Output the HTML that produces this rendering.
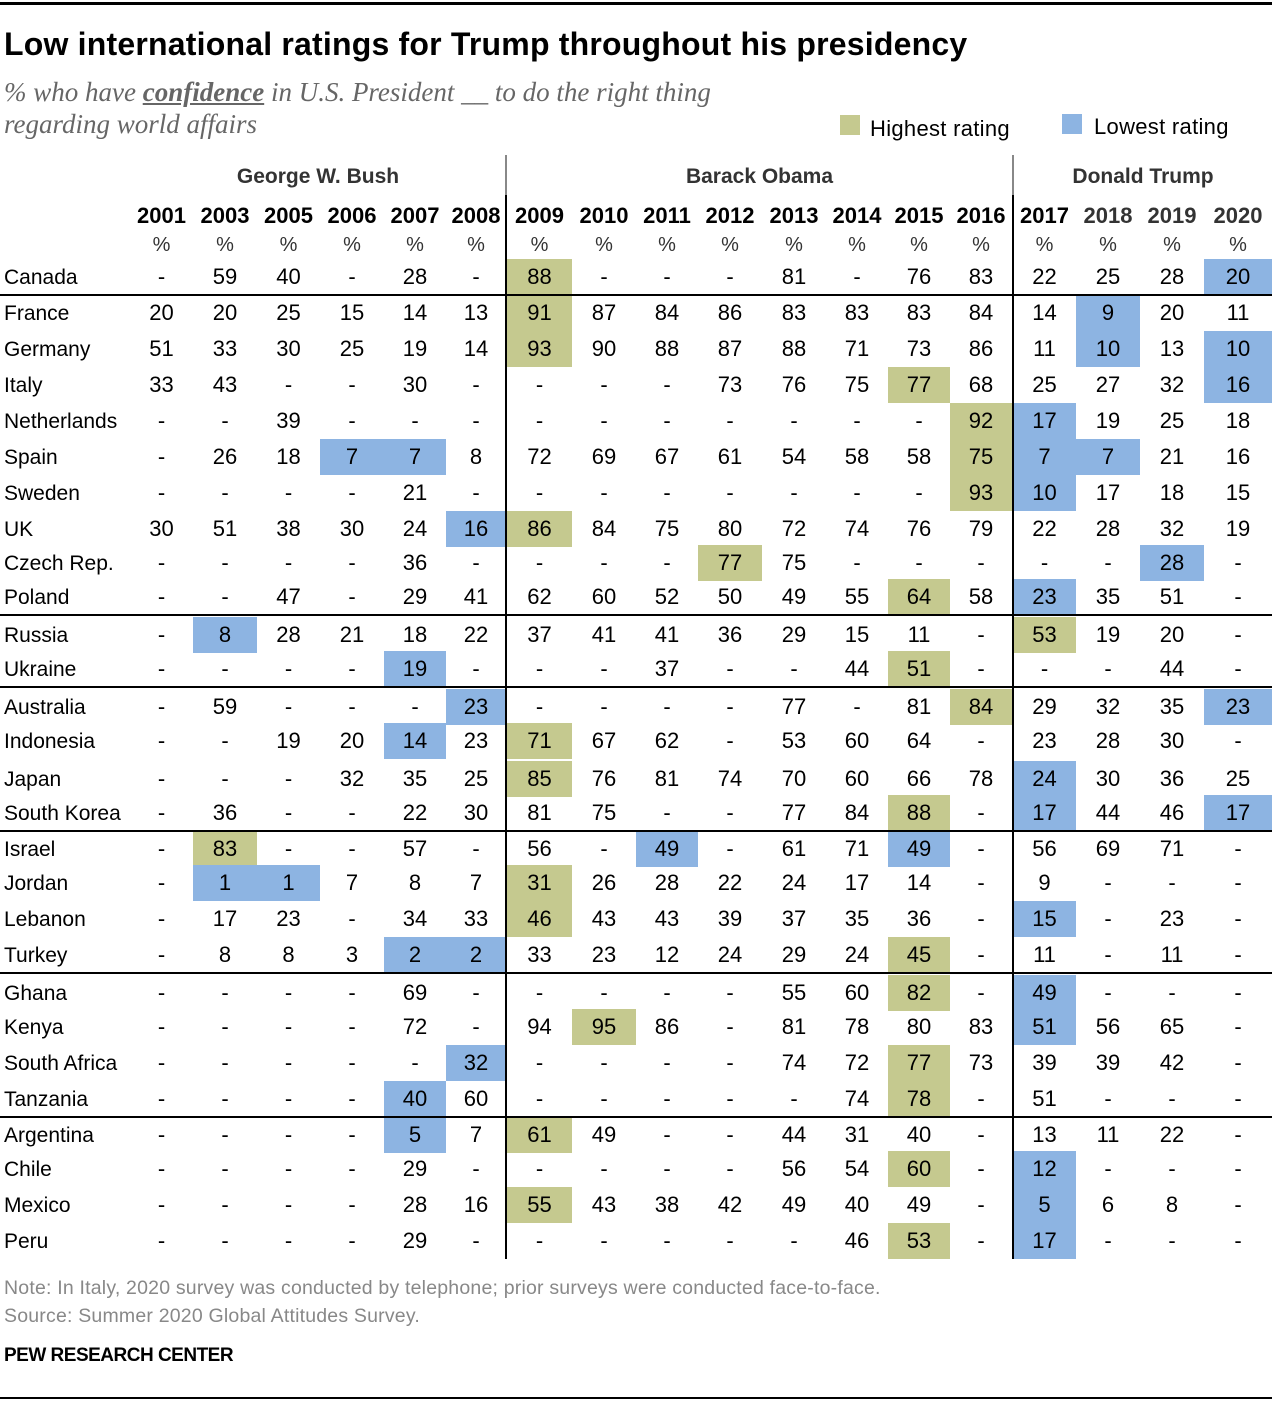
<!DOCTYPE html>
<html><head><meta charset="utf-8">
<style>
body{margin:0;background:#fff;font-family:"Liberation Sans",sans-serif;color:#000}
#root{position:relative;width:1280px;height:1402px;overflow:hidden}
.abs{position:absolute;white-space:nowrap}
</style></head><body>
<div id="root">
<div class="abs" style="left:0;top:2px;width:1272px;height:3px;background:#000"></div>
<div class="abs" style="left:4px;top:26px;font-size:32px;font-weight:bold;letter-spacing:0.2px">Low international ratings for Trump throughout his presidency</div>
<div class="abs" style="left:4px;top:76px;font-family:'Liberation Serif',serif;font-style:italic;font-size:27px;color:#666;line-height:32px">% who have <b style="text-decoration:underline">confidence</b> in U.S. President __ to do the right thing<br>regarding world affairs</div>
<div class="abs" style="left:840px;top:115px;width:20px;height:20px;background:#c5c98f"></div>
<div class="abs" style="left:870px;top:116px;font-size:22px;letter-spacing:0.3px">Highest rating</div>
<div class="abs" style="left:1062px;top:114px;width:20px;height:20px;background:#8db4e2"></div>
<div class="abs" style="left:1094px;top:114px;font-size:22px;letter-spacing:0.3px">Lowest rating</div>
<div class="abs" style="left:130px;width:376px;text-align:center;top:165px;font-size:21px;font-weight:bold;color:#333">George W. Bush</div>
<div class="abs" style="left:507px;width:505px;text-align:center;top:165px;font-size:21px;font-weight:bold;color:#333">Barack Obama</div>
<div class="abs" style="left:1014px;width:258px;text-align:center;top:165px;font-size:21px;font-weight:bold;color:#333">Donald Trump</div>
<div id="grid"></div>
<div class="abs" style="left:4px;top:1277px;font-size:19.5px;color:#888;letter-spacing:0.2px">Note: In Italy, 2020 survey was conducted by telephone; prior surveys were conducted face-to-face.</div>
<div class="abs" style="left:4px;top:1305px;font-size:19.5px;color:#888;letter-spacing:0.2px">Source: Summer 2020 Global Attitudes Survey.</div>
<div class="abs" style="left:4px;top:1345px;font-size:19px;font-weight:bold;letter-spacing:-0.5px">PEW RESEARCH CENTER</div>
<div class="abs" style="left:0;top:1397px;width:1272px;height:2px;background:#000"></div>
</div>
<script>
const years=["2001","2003","2005","2006","2007","2008","2009","2010","2011","2012","2013","2014","2015","2016","2017","2018","2019","2020"];
const countries=["Canada","France","Germany","Italy","Netherlands","Spain","Sweden","UK","Czech Rep.","Poland","Russia","Ukraine","Australia","Indonesia","Japan","South Korea","Israel","Jordan","Lebanon","Turkey","Ghana","Kenya","South Africa","Tanzania","Argentina","Chile","Mexico","Peru"];
// H = highest, L = lowest suffix
const values=[
"- 59 40 - 28 - 88H - - - 81 - 76 83 22 25 28 20L",
"20 20 25 15 14 13 91H 87 84 86 83 83 83 84 14 9L 20 11",
"51 33 30 25 19 14 93H 90 88 87 88 71 73 86 11 10L 13 10L",
"33 43 - - 30 - - - - 73 76 75 77H 68 25 27 32 16L",
"- - 39 - - - - - - - - - - 92H 17L 19 25 18",
"- 26 18 7L 7L 8 72 69 67 61 54 58 58 75H 7L 7L 21 16",
"- - - - 21 - - - - - - - - 93H 10L 17 18 15",
"30 51 38 30 24 16L 86H 84 75 80 72 74 76 79 22 28 32 19",
"- - - - 36 - - - - 77H 75 - - - - - 28L -",
"- - 47 - 29 41 62 60 52 50 49 55 64H 58 23L 35 51 -",
"- 8L 28 21 18 22 37 41 41 36 29 15 11 - 53H 19 20 -",
"- - - - 19L - - - 37 - - 44 51H - - - 44 -",
"- 59 - - - 23L - - - - 77 - 81 84H 29 32 35 23L",
"- - 19 20 14L 23 71H 67 62 - 53 60 64 - 23 28 30 -",
"- - - 32 35 25 85H 76 81 74 70 60 66 78 24L 30 36 25",
"- 36 - - 22 30 81 75 - - 77 84 88H - 17L 44 46 17L",
"- 83H - - 57 - 56 - 49L - 61 71 49L - 56 69 71 -",
"- 1L 1L 7 8 7 31H 26 28 22 24 17 14 - 9 - - -",
"- 17 23 - 34 33 46H 43 43 39 37 35 36 - 15L - 23 -",
"- 8 8 3 2L 2L 33 23 12 24 29 24 45H - 11 - 11 -",
"- - - - 69 - - - - - 55 60 82H - 49L - - -",
"- - - - 72 - 94 95H 86 - 81 78 80 83 51L 56 65 -",
"- - - - - 32L - - - - 74 72 77H 73 39 39 42 -",
"- - - - 40L 60 - - - - - 74 78H - 51 - - -",
"- - - - 5L 7 61H 49 - - 44 31 40 - 13 11 22 -",
"- - - - 29 - - - - - 56 54 60H - 12L - - -",
"- - - - 28 16 55H 43 38 42 49 40 49 - 5L 6 8 -",
"- - - - 29 - - - - - - 46 53H - 17L - - -"
];
const groupBreaks=[0,9,11,15,19,23];
// layout (not data)
const colEdges=[130,193,257,320,384,446,506,572,636,698,762,826,888,950,1012,1076,1140,1204,1272];
const rowCenters=[277,313,349,385,421,457,493,529,563,597,635,669,707,741,779,813,849,883,919,955,993,1027,1063,1099,1135,1169,1205,1241];
const g=document.getElementById('grid');
function add(html,css){const d=document.createElement('div');d.className='abs';d.style.cssText=css;d.innerHTML=html;g.appendChild(d);return d;}
years.forEach((y,i)=>{
  const x0=colEdges[i]+(i===6||i===14?1:0),w=colEdges[i+1]-x0;
  const d=add(y,`left:${x0-6}px;width:${w+12}px;text-align:center;top:203px;font-size:22px;font-weight:bold;color:${i>=15?'#333':'#000'}`);
  
  
  const p=add('%',`left:${x0}px;width:${w}px;text-align:center;top:234px;font-size:20px;color:#333`);
  
  
});
countries.forEach((c,r)=>{
  const yc=rowCenters[r];
  const n=add(c,`left:4px;top:${yc-11}px;font-size:21px`);
  
  
  values[r].split(' ').forEach((v,i)=>{
    let t=v,bg='';
    if(v.endsWith('H')){t=v.slice(0,-1);bg='#c5c98f';}
    if(v.endsWith('L')){t=v.slice(0,-1);bg='#8db4e2';}
    const x0=colEdges[i]+(i===6||i===14?1:0),w=colEdges[i+1]-x0;
    if(bg){const h=add('',`left:${x0}px;width:${w}px;top:${yc-18}px;height:36px;background:${bg}`);
      
      }
    const d=add(t,`left:${x0}px;width:${w}px;text-align:center;top:${yc-13}px;font-size:22px`);
    
    
  });
});
groupBreaks.forEach(r=>{
  const y=Math.round(rowCenters[r]+18);
  const l=add('',`left:0;top:${y-1}px;width:1272px;height:2px;background:#000`);
  
  
});
[505,1012].forEach(x=>{
  const a=add('',`left:${x}px;top:155px;width:2px;height:40px;background:#888`);
  
  
  const b=add('',`left:${x}px;top:195px;width:2px;height:1064px;background:#000`);
  
  
});
</script>
</body></html>
